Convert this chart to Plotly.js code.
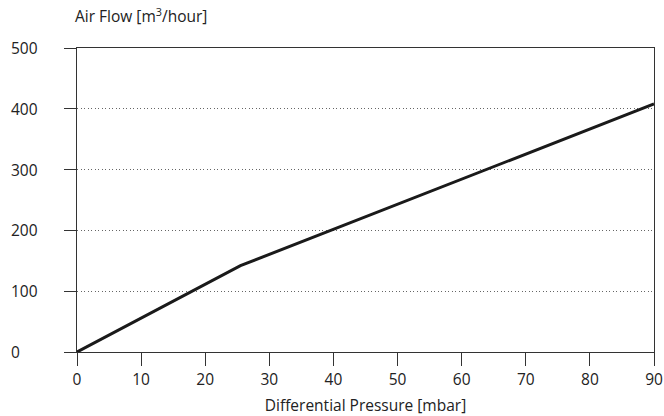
<!DOCTYPE html>
<html>
<head>
<meta charset="utf-8">
<script src="https://cdn.plot.ly/plotly-3.0.1.min.js"></script>
<style>html,body{margin:0;padding:0;background:#fff;}#chart{width:664px;height:416px;}</style>
</head>
<body>
<div id="chart"></div>
<script>
var pressure = [0, 25.5, 90];
var airFlow = [0, 142, 408];
var xTicks = [0, 10, 20, 30, 40, 50, 60, 70, 80, 90];
var yTicks = [0, 100, 200, 300, 400, 500];
var yTickLabels = ['0', '100', '200', '300', '400', '500'];

var FONT = 'Open Sans, Lato, DejaVu Sans, sans-serif';
var FS = 15.5;
var W = 664, ML = 77, MR = 10;
var plotW = W - ML - MR;

var annotations = yTicks.map(function (v, i) {
  return {
    xref: 'paper', yref: 'y',
    x: (9 - ML) / plotW, y: v,
    xanchor: 'left', yanchor: 'middle',
    text: yTickLabels[i], showarrow: false,
    font: {family: FONT, size: FS, color: '#222'}
  };
});

var trace = {
  x: pressure, y: airFlow, type: 'scatter', mode: 'lines',
  line: {color: '#1a1a1a', width: 3},
  hoverinfo: 'skip'
};

var layout = {
  width: 664, height: 416,
  margin: {l: ML, r: MR, t: 48, b: 64},
  paper_bgcolor: '#fff', plot_bgcolor: '#fff',
  showlegend: false,
  font: {family: FONT, size: FS, color: '#222'},
  title: {
    text: 'Air Flow [m<sup>3</sup>/hour]',
    xref: 'container', yref: 'container',
    x: 75 / 664, xanchor: 'left',
    y: 1 - 17 / 416, yanchor: 'middle',
    font: {family: FONT, size: FS, color: '#222'}
  },
  xaxis: {
    range: [0, 90], tickvals: xTicks, ticktext: xTicks.map(String),
    showgrid: false, zeroline: false,
    showline: true, linecolor: '#333', linewidth: 1, mirror: true,
    ticks: 'outside', ticklen: 13, tickcolor: '#333', tickwidth: 1,
    tickfont: {family: FONT, size: FS, color: '#222'},
    title: {text: 'Differential Pressure [mbar]', standoff: 12,
            font: {family: FONT, size: FS, color: '#222'}},
    fixedrange: true
  },
  yaxis: {
    range: [0, 500], tickvals: yTicks, showticklabels: false,
    showgrid: true, gridcolor: '#666', griddash: '1px,2.5px', gridwidth: 1,
    zeroline: false,
    showline: true, linecolor: '#333', linewidth: 1, mirror: true,
    ticks: 'outside', ticklen: 12, tickcolor: '#333', tickwidth: 1,
    fixedrange: true
  },
  annotations: annotations
};

Plotly.newPlot('chart', [trace], layout, {displayModeBar: false, staticPlot: true});
</script>
</body>
</html>
